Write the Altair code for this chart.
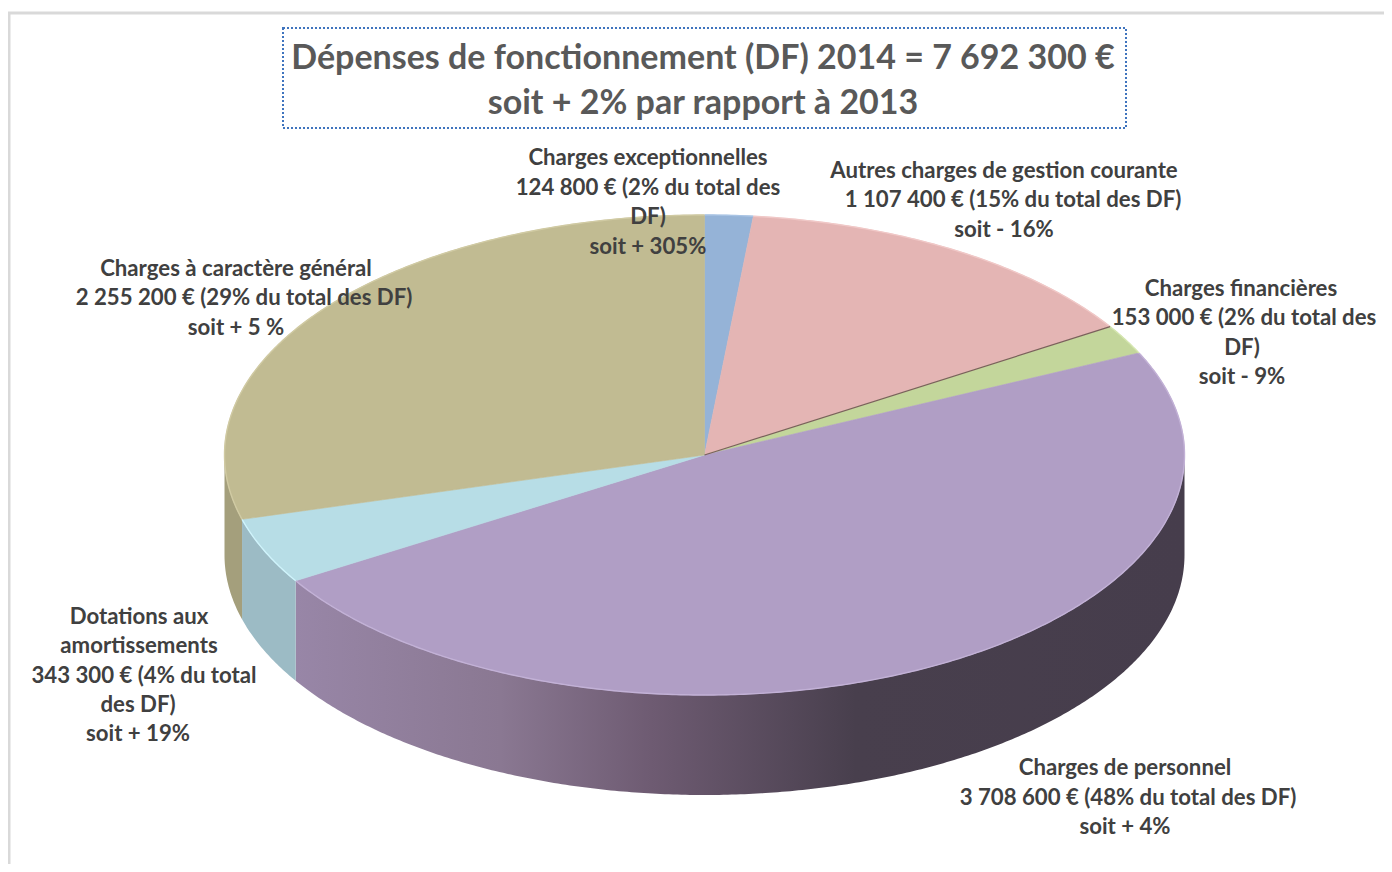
import numpy as np
import pandas as pd
import altair as alt

# ---- chart values ----
categories = ["Charges exceptionnelles", "Autres charges de gestion courante", "Charges financières",
              "Charges de personnel", "Dotations aux amortissements", "Charges à caractère général"]
values = [124800, 1107400, 153000, 3708600, 343300, 2255200]

top_colors = ["#95B3D7", "#E4B5B4", "#C3D69B", "#B09EC5", "#B7DDE6", "#C1BB92"]
side_colors = ["#7F98B7", "#C39B9A", "#A6B684", "#9785A6", "#9CBBC5", "#A49F7C"]
rim_colors = ["#A9C4E4", "#F0C8C7", "#D5E6B0", "#C2B1D6", "#CFF3FB", "#D0CAA3"]

title_lines = ["Dépenses de fonctionnement (DF) 2014 = 7 692 300 €", "soit + 2% par rapport à 2013"]

label_lines = [
    "Charges exceptionnelles", "124 800 €  (2% du total des", "DF)", "soit + 305%",
    "Autres charges de gestion courante", "1 107 400 €  (15% du total des DF)", "soit - 16%",
    "Charges financières", "153 000 € (2% du total des", "DF)", "soit - 9%",
    "Charges de personnel", "3 708 600 € (48% du total des DF)", "soit + 4%",
    "Dotations aux", "amortissements", "343 300 € (4% du total", "des DF)", "soit + 19%",
    "Charges à caractère général", "2 255 200 €   (29% du total des DF)", "soit + 5 %",
]
label_x = [648, 648, 648, 648,
           1004, 1013, 1004,
           1241, 1244, 1242, 1242,
           1125, 1128, 1125,
           139, 139, 144, 138, 138,
           236, 244, 236]
label_y = [158, 188, 217, 247,
           171, 200, 230,
           289, 318, 348, 377,
           768, 798, 827,
           617, 646, 676, 705, 734,
           269, 298, 328]

# ---- layout of the tilted pie ----
CX, CY, RX, RY, DEPTH = 704.5, 455, 480, 240, 100

X = alt.X("x:Q", axis=None, scale=alt.Scale(domain=[8, 1384], range=[0, 1376]))
Y = alt.Y("y:Q", axis=None, scale=alt.Scale(domain=[8, 864], range=[0, 856]))

total = sum(values)
edges = np.cumsum([0] + values) / total * 360.0


def rim(a0, a1, step=0.5):
    n = max(2, int(abs(a1 - a0) / step) + 1)
    t = np.radians(np.linspace(a0, a1, n))
    return CX + RX * np.sin(t), CY - RY * np.cos(t)


layers = []

# side walls (front half only: 90..270 degrees clockwise from the top)
wall_fill = {
    3: alt.Gradient(
        gradient="linear", x1=0, y1=0, x2=1, y2=0,
        stops=[
            alt.GradientStop(offset=0.0, color="#9886A7"),
            alt.GradientStop(offset=0.23, color="#8A7892"),
            alt.GradientStop(offset=0.40, color="#6E5B72"),
            alt.GradientStop(offset=0.63, color="#483F4D"),
            alt.GradientStop(offset=1.0, color="#463D4C"),
        ],
    )
}
for i in range(len(values)):
    a0, a1 = max(edges[i], 90.0), min(edges[i + 1], 270.0)
    if a1 <= a0:
        continue
    xs, ys = rim(a0, a1)
    df = pd.DataFrame({"x": xs, "y": ys, "y2": ys + DEPTH})
    layers.append(
        alt.Chart(df).mark_area(fill=wall_fill.get(i, side_colors[i]), stroke=None, opacity=1)
        .encode(x=X, y=Y, y2=alt.Y2("y2:Q"))
    )

# top faces
for i in range(len(values)):
    xs, ys = rim(edges[i], edges[i + 1])
    df = pd.DataFrame({"x": np.r_[CX, xs, CX], "y": np.r_[CY, ys, CY]})
    df["i"] = range(len(df))
    layers.append(
        alt.Chart(df).mark_line(fill=top_colors[i], stroke=top_colors[i], strokeWidth=0.6)
        .encode(x=X, y=Y, order=alt.Order("i:Q"))
    )

# lighter bevel along the rim of each slice
for i in range(len(values)):
    xs, ys = rim(edges[i], edges[i + 1])
    df = pd.DataFrame({"x": xs, "y": ys})
    df["i"] = range(len(df))
    layers.append(
        alt.Chart(df).mark_line(stroke=rim_colors[i], strokeWidth=1.4)
        .encode(x=X, y=Y, order=alt.Order("i:Q"))
    )

# dark seam between two slices
sx, sy = rim(edges[2], edges[2])
seam = pd.DataFrame({"x": [CX, sx[0]], "y": [CY, sy[0]], "i": [0, 1]})
layers.append(alt.Chart(seam).mark_line(stroke="#7B5F5C", strokeWidth=1.2)
              .encode(x=X, y=Y, order=alt.Order("i:Q")))

# frame of the picture
frame = pd.DataFrame({"x": [9, 9, 1384], "y": [864, 13, 13], "i": [0, 1, 2]})
layers.append(alt.Chart(frame).mark_line(stroke="#D9D9D9", strokeWidth=3)
              .encode(x=X, y=Y, order=alt.Order("i:Q")))

# title box
box = pd.DataFrame({"x": [283], "x2": [1126], "y": [28], "y2": [128]})
layers.append(
    alt.Chart(box).mark_rect(fillOpacity=0, stroke="#3F74BE", strokeWidth=2, strokeDash=[2, 2])
    .encode(x=X, x2=alt.X2("x2:Q"), y=Y, y2=alt.Y2("y2:Q"))
)

# title text
title_df = pd.DataFrame({"t": title_lines, "x": [703, 703], "y": [58.5, 103.5]})
layers.append(
    alt.Chart(title_df).mark_text(font="Lato", fontWeight="bold", fontSize=34, color="#595959",
                                  align="center", baseline="middle")
    .encode(x=X, y=Y, text="t:N")
)

# slice labels
label_df = pd.DataFrame({"t": label_lines, "x": label_x, "y": label_y})
layers.append(
    alt.Chart(label_df).mark_text(font="Lato", fontWeight="bold", fontSize=22.2, color="#404040",
                                  align="center", baseline="middle")
    .encode(x=X, y=Y, text="t:N")
)

chart = (
    alt.layer(*layers)
    .properties(width=1376, height=856, padding=0, background="white",
                autosize=alt.AutoSizeParams(type="none"))
    .configure_view(stroke=None)
)

chart.save("out.html", embed_options={"renderer": "svg", "actions": False})
